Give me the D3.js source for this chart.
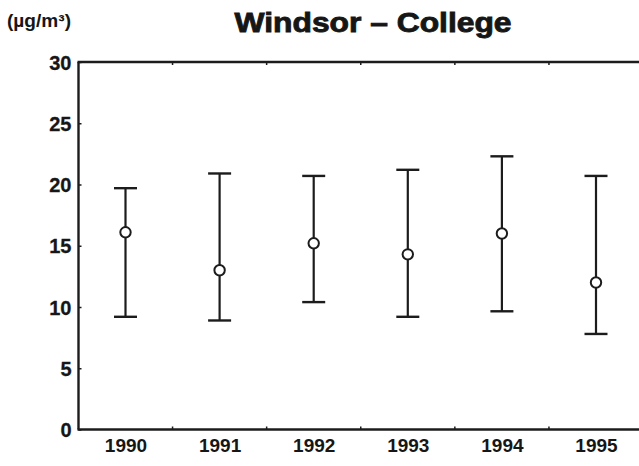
<!DOCTYPE html>
<html>
<head>
<meta charset="utf-8">
<script src="https://cdn.jsdelivr.net/npm/d3@7/dist/d3.min.js"></script>
<style>
  html, body { margin: 0; padding: 0; background: #fff; }
  svg { display: block; }
  text { font-family: "Liberation Sans", Arial, Helvetica, sans-serif; fill: #161616; }
</style>
</head>
<body>
<svg id="chart" width="639" height="466"></svg>
<script>
// Annual PM concentration summary, Windsor – College site
const years = ["1990", "1991", "1992", "1993", "1994", "1995"];
const means = [16.1, 13.0, 15.2, 14.3, 16.0, 12.0];
const upper = [19.7, 20.9, 20.7, 21.2, 22.3, 20.7];
const lower = [9.2, 8.9, 10.4, 9.2, 9.65, 7.8];
const yTicks = [0, 5, 10, 15, 20, 25, 30];

const svg = d3.select("#chart");
const ink = "#1c1c1c";

const y = d3.scaleLinear().domain([0, 30]).range([429.5, 62]);
const x = d3.scalePoint().domain(years).range([125.5, 596]);

const left = 78.5, right = 645;

// frame: left, top and bottom edges
svg.append("line").attr("x1", left).attr("x2", left).attr("y1", y(30)).attr("y2", y(0))
  .attr("stroke", ink).attr("stroke-width", 2.4);
svg.append("line").attr("x1", left - 1).attr("x2", right).attr("y1", y(30)).attr("y2", y(30))
  .attr("stroke", ink).attr("stroke-width", 2.4);
svg.append("line").attr("x1", left - 1).attr("x2", right).attr("y1", y(0)).attr("y2", y(0))
  .attr("stroke", ink).attr("stroke-width", 2.4);

// y axis labels and small inward ticks
const yAxis = d3.axisLeft(y).tickValues(yTicks).tickSize(-3).tickPadding(7)
  .tickFormat(d3.format("d"));
const gy = svg.append("g").attr("transform", `translate(${left},0)`).call(yAxis);
gy.select(".domain").remove();
gy.selectAll(".tick line").attr("stroke", ink).attr("stroke-width", 1.5);
gy.selectAll(".tick text")
  .style("font-size", "20px").style("font-weight", "bold")
  .attr("fill", ink).attr("stroke", ink).attr("stroke-width", 0.3)
  .attr("dy", "0.36em");

// x axis labels under each marker
const xAxis = d3.axisBottom(x).tickSize(0).tickPadding(9);
const gx = svg.append("g").attr("transform", `translate(0,${y(0)})`).call(xAxis);
gx.select(".domain").remove();
gx.selectAll(".tick text")
  .style("font-size", "19px").style("font-weight", "bold")
  .attr("fill", "#262626").attr("dy", "0.72em");

// small ticks halfway between markers, on top and bottom edges
const midTicks = years.slice(0, -1).map((v, i) => (x(v) + x(years[i + 1])) / 2);
svg.append("g").selectAll("line").data(midTicks).join("line")
  .attr("x1", d => d).attr("x2", d => d)
  .attr("y1", y(0)).attr("y2", y(0) - 3)
  .attr("stroke", ink).attr("stroke-width", 1.5);
svg.append("g").selectAll("line").data(midTicks).join("line")
  .attr("x1", d => d).attr("x2", d => d)
  .attr("y1", y(30)).attr("y2", y(30) + 3)
  .attr("stroke", ink).attr("stroke-width", 1.5);

// error bars
const capHalf = 11.5;
const bars = svg.append("g").selectAll("g").data(years).join("g");
bars.append("line")
  .attr("x1", d => x(d)).attr("x2", d => x(d))
  .attr("y1", (d, i) => y(upper[i])).attr("y2", (d, i) => y(lower[i]))
  .attr("stroke", ink).attr("stroke-width", 2.2);
bars.append("line")
  .attr("x1", d => x(d) - capHalf).attr("x2", d => x(d) + capHalf)
  .attr("y1", (d, i) => y(upper[i])).attr("y2", (d, i) => y(upper[i]))
  .attr("stroke", ink).attr("stroke-width", 2.4);
bars.append("line")
  .attr("x1", d => x(d) - capHalf).attr("x2", d => x(d) + capHalf)
  .attr("y1", (d, i) => y(lower[i])).attr("y2", (d, i) => y(lower[i]))
  .attr("stroke", ink).attr("stroke-width", 2.4);
bars.append("circle")
  .attr("cx", d => x(d)).attr("cy", (d, i) => y(means[i]))
  .attr("r", 5.2).attr("fill", "#fff").attr("stroke", ink).attr("stroke-width", 2);

// title and unit
svg.append("text").attr("x", 373).attr("y", 32).attr("text-anchor", "middle")
  .attr("textLength", 277).attr("lengthAdjust", "spacingAndGlyphs")
  .attr("stroke", "#161616").attr("stroke-width", 0.9)
  .style("font-size", "28px").style("font-weight", "bold").text("Windsor – College");
svg.append("text").attr("x", 7).attr("y", 27)
  .attr("textLength", 64).attr("lengthAdjust", "spacingAndGlyphs")
  .style("font-size", "18px").style("font-weight", "bold").text("(µg/m³)");
</script>
</body>
</html>
